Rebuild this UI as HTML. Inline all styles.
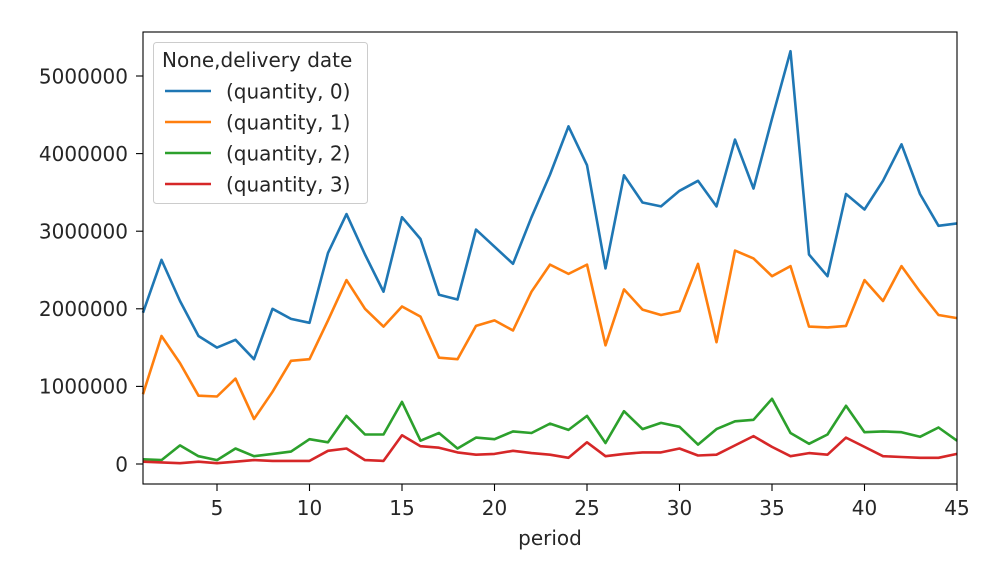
<!DOCTYPE html>
<html><head><meta charset="utf-8">
<style>
html,body{margin:0;padding:0;background:#fff;}
svg{display:block;font-family:"DejaVu Sans","Liberation Sans",sans-serif;}
</style></head>
<body>
<svg id="chart" width="990" height="585" viewBox="0 0 990 585" xmlns="http://www.w3.org/2000/svg">
<rect x="0" y="0" width="990" height="585" fill="#fff"/>
<g id="plot"></g>
</svg>
<script>
const periods = [];
for (let i = 1; i <= 45; i++) periods.push(i);
const q0 = [1.95,2.63,2.1,1.65,1.5,1.6,1.35,2.0,1.87,1.82,2.72,3.22,2.7,2.22,3.18,2.9,2.18,2.12,3.02,2.8,2.58,3.18,3.73,4.35,3.85,2.52,3.72,3.37,3.32,3.52,3.65,3.32,4.18,3.55,4.45,5.32,2.7,2.42,3.48,3.28,3.65,4.12,3.48,3.07,3.1];
const q1 = [0.9,1.65,1.3,0.88,0.87,1.1,0.58,0.93,1.33,1.35,1.85,2.37,2.0,1.77,2.03,1.9,1.37,1.35,1.78,1.85,1.72,2.22,2.57,2.45,2.57,1.53,2.25,1.99,1.92,1.97,2.58,1.57,2.75,2.65,2.42,2.55,1.77,1.76,1.78,2.37,2.1,2.55,2.22,1.92,1.88];
const q2 = [0.06,0.05,0.24,0.1,0.05,0.2,0.1,0.13,0.16,0.32,0.28,0.62,0.38,0.38,0.8,0.3,0.4,0.2,0.34,0.32,0.42,0.4,0.52,0.44,0.62,0.27,0.68,0.45,0.53,0.48,0.25,0.45,0.55,0.57,0.84,0.4,0.26,0.38,0.75,0.41,0.42,0.41,0.35,0.47,0.3];
const q3 = [0.03,0.02,0.01,0.03,0.01,0.03,0.05,0.04,0.04,0.04,0.17,0.2,0.05,0.04,0.37,0.23,0.21,0.15,0.12,0.13,0.17,0.14,0.12,0.08,0.28,0.1,0.13,0.15,0.15,0.2,0.11,0.12,0.24,0.36,0.22,0.1,0.14,0.12,0.34,0.22,0.1,0.09,0.08,0.08,0.13];
const seriesNames = ["(quantity, 0)","(quantity, 1)","(quantity, 2)","(quantity, 3)"];
const yTicks = [0,1000000,2000000,3000000,4000000,5000000];
const xTicks = [5,10,15,20,25,30,35,40,45];

const NS = "http://www.w3.org/2000/svg";
const L=143,R=957,T=32,B=484;
const FS=20;
const xs = v => L + (v-1)*(R-L)/44;
const ys = v => 464 - v*77.6/1000000;
const g = document.getElementById('plot');
function mk(tag, attrs, parent){const e=document.createElementNS(NS,tag);for(const k in attrs)e.setAttribute(k,attrs[k]);(parent||g).appendChild(e);return e;}

const colors=["#1f77b4","#ff7f0e","#2ca02c","#d62728"];
const data=[q0,q1,q2,q3];
const lineG = mk('g',{});


data.forEach((s,k)=>{
  const d = s.map((v,i)=>(i?'L':'M')+xs(periods[i]).toFixed(1)+','+ys(v*1000000).toFixed(1)).join(' ');
  const p = mk('path',{d:d,fill:'none',stroke:colors[k],'stroke-width':2.6,'stroke-linejoin':'round'},lineG);
  
  
});
const fr = mk('rect',{x:L,y:T,width:R-L,height:B-T,fill:'none',stroke:'#000','stroke-width':1.1});


yTicks.forEach(v=>{
  const y=ys(v);
  const t=mk('line',{x1:L-7,x2:L,y1:y,y2:y,stroke:'#000','stroke-width':1.1});
  
  
  const tx=mk('text',{x:L-15,y:y+7.3,'text-anchor':'end','font-size':FS,fill:'#262626'});
  tx.textContent=String(v);
  
  
});
xTicks.forEach(v=>{
  const x=xs(v);
  const t=mk('line',{x1:x,x2:x,y1:B,y2:B+7,stroke:'#000','stroke-width':1.1});
  
  
  const tx=mk('text',{x:x,y:515,'text-anchor':'middle','font-size':FS,fill:'#262626'});
  tx.textContent=String(v);
  
  
});
const xt=mk('text',{x:(L+R)/2,y:545,'text-anchor':'middle','font-size':FS,fill:'#262626'});
xt.textContent='period';


const lg=mk('g',{});


mk('rect',{x:153.5,y:42.5,width:214,height:161,rx:3,fill:'#fff','fill-opacity':0.85,stroke:'#ccc'},lg);
const lt=mk('text',{x:162,y:67,'font-size':FS,fill:'#262626'},lg);
lt.textContent='None,delivery date';


seriesNames.forEach((n,k)=>{
  const y=91+k*31;
  const e=mk('g',{},lg);
  
  
  mk('line',{x1:165,x2:211,y1:y,y2:y,stroke:colors[k],'stroke-width':2.6},e);
  const t=mk('text',{x:226,y:y+7.3,'font-size':FS,fill:'#262626'},e);
  t.textContent=n;
});
</script>
</body></html>
